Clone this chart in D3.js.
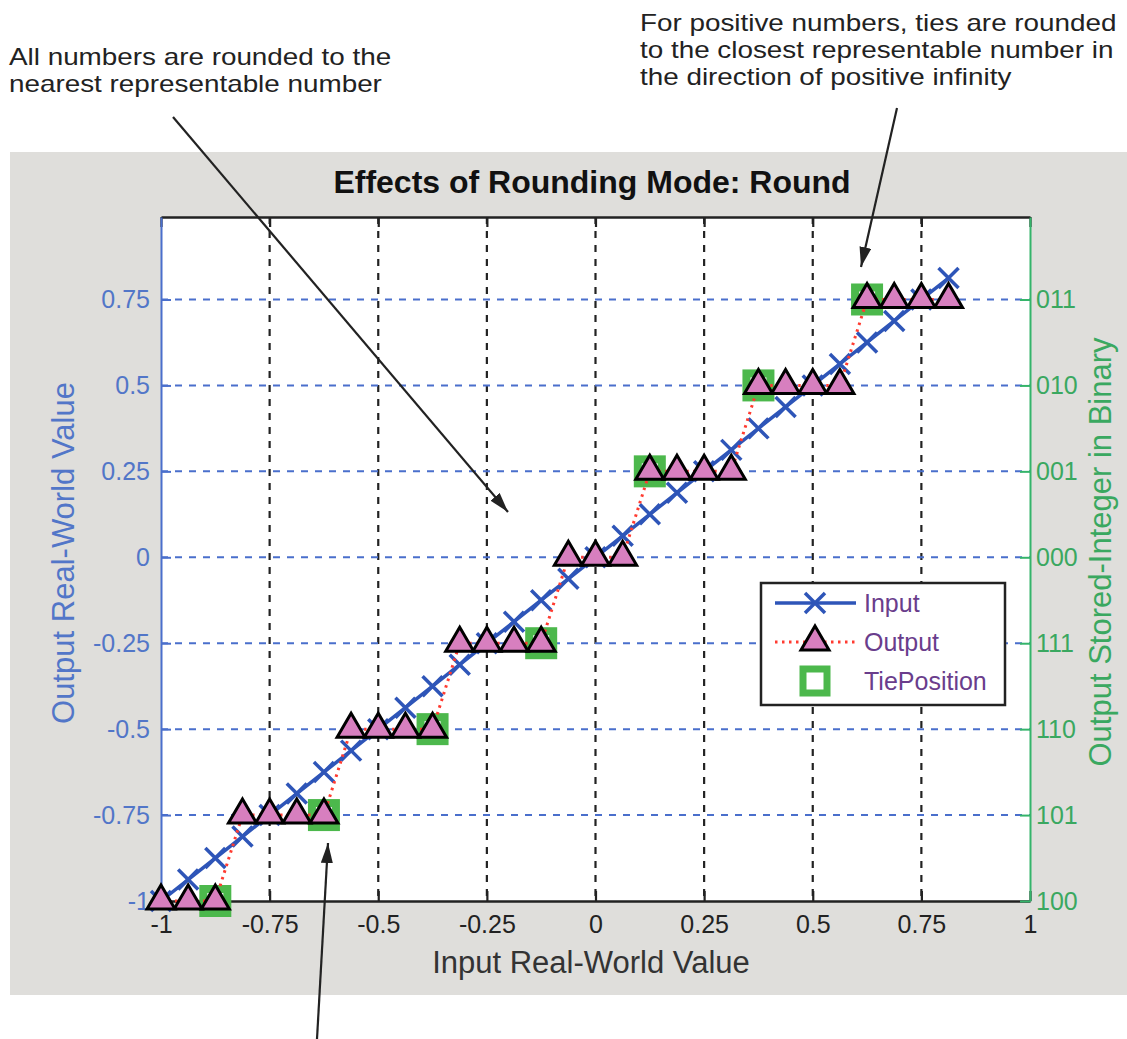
<!DOCTYPE html>
<html>
<head>
<meta charset="utf-8">
<script src="https://cdn.jsdelivr.net/npm/d3@7"></script>
<style>
  html, body { margin: 0; padding: 0; background: #ffffff; }
  svg { display: block; font-family: "Liberation Sans", Arial, Helvetica, sans-serif; }
</style>
</head>
<body>
<svg id="chart" width="1127" height="1039"></svg>
<script>
// ---------------- data ----------------
const inputX = [-1, -0.9375, -0.875, -0.8125, -0.75, -0.6875, -0.625, -0.5625, -0.5, -0.4375,
  -0.375, -0.3125, -0.25, -0.1875, -0.125, -0.0625, 0, 0.0625, 0.125, 0.1875,
  0.25, 0.3125, 0.375, 0.4375, 0.5, 0.5625, 0.625, 0.6875, 0.75, 0.8125];
const inputY = [-1, -0.9375, -0.875, -0.8125, -0.75, -0.6875, -0.625, -0.5625, -0.5, -0.4375,
  -0.375, -0.3125, -0.25, -0.1875, -0.125, -0.0625, 0, 0.0625, 0.125, 0.1875,
  0.25, 0.3125, 0.375, 0.4375, 0.5, 0.5625, 0.625, 0.6875, 0.75, 0.8125];
const outputY = [-1, -1, -1, -0.75, -0.75, -0.75, -0.75, -0.5, -0.5, -0.5,
  -0.5, -0.25, -0.25, -0.25, -0.25, 0, 0, 0, 0.25, 0.25,
  0.25, 0.25, 0.5, 0.5, 0.5, 0.5, 0.75, 0.75, 0.75, 0.75];
const tieX = [-0.875, -0.625, -0.375, -0.125, 0.125, 0.375, 0.625];
const tieY = [-1, -0.75, -0.5, -0.25, 0.25, 0.5, 0.75];

const xTicks = [-1, -0.75, -0.5, -0.25, 0, 0.25, 0.5, 0.75, 1];
const xTickLabels = ["-1", "-0.75", "-0.5", "-0.25", "0", "0.25", "0.5", "0.75", "1"];
const yTicks = [-1, -0.75, -0.5, -0.25, 0, 0.25, 0.5, 0.75];
const yTickLabels = ["-1", "-0.75", "-0.5", "-0.25", "0", "0.25", "0.5", "0.75"];
const binaryLabels = ["100", "101", "110", "111", "000", "001", "010", "011"];
const xDomain = [-1, 1];
const yDomain = [-1, 0.99];

const titleText = "Effects of Rounding Mode: Round";
const xLabelText = "Input Real-World Value";
const yLabelText = "Output Real-World Value";
const yRightLabelText = "Output Stored-Integer in Binary";
const legendLabels = ["Input", "Output", "TiePosition"];
const noteLeft = ["All numbers are rounded to the", "nearest representable number"];
const noteRight = ["For positive numbers, ties are rounded", "to the closest representable number in", "the direction of positive infinity"];

// ---------------- style ----------------
const C = {
  figBg: "#dfdedb",
  blueAxis: "#4a6fcc",
  blueText: "#5276c8",
  greenAxis: "#34b46a",
  greenText: "#3aa860",
  inputLine: "#2e55b8",
  outputLine: "#ff3b30",
  tri: "#d77fbf",
  tie: "#4cb84c",
  legendText: "#6a3d8c",
  text: "#222222"
};

const svg = d3.select("#chart");
const L = 161, R = 1030, T = 217, B = 901;
const x = d3.scaleLinear().domain(xDomain).range([L, R]);
const y = d3.scaleLinear().domain(yDomain).range([B, T]);

// arrow marker
const defs = svg.append("defs");
defs.append("marker")
  .attr("id", "arrow").attr("viewBox", "0 0 20 12")
  .attr("refX", 20).attr("refY", 6)
  .attr("markerWidth", 20).attr("markerHeight", 12)
  .attr("markerUnits", "userSpaceOnUse")
  .attr("orient", "auto")
  .append("path").attr("d", "M0,0 L20,6 L0,12 Z").attr("fill", "#222");

// figure background
svg.append("rect").attr("x", 10).attr("y", 152).attr("width", 1117).attr("height", 843).attr("fill", C.figBg);
// plot background
svg.append("rect").attr("x", L).attr("y", T).attr("width", R - L).attr("height", B - T).attr("fill", "#ffffff");

// grid
const grid = svg.append("g");
grid.selectAll("line.vg").data(xTicks.filter(d => d > xDomain[0] && d < xDomain[1])).join("line")
  .attr("x1", d => x(d)).attr("x2", d => x(d)).attr("y1", T).attr("y2", B)
  .attr("stroke", "#222").attr("stroke-width", 2.2).attr("stroke-dasharray", "7,7");
grid.selectAll("line.hg").data(yTicks.filter(d => d > yDomain[0])).join("line")
  .attr("x1", L).attr("x2", R).attr("y1", d => y(d)).attr("y2", d => y(d))
  .attr("stroke", C.blueAxis).attr("stroke-width", 2).attr("stroke-dasharray", "7,7");

// axes
const fmtX = d => xTickLabels[xTicks.indexOf(d)];
const fmtY = d => yTickLabels[yTicks.indexOf(d)];
const fmtB = d => binaryLabels[yTicks.indexOf(d)];

const gx = svg.append("g").attr("transform", `translate(0,${B})`)
  .call(d3.axisBottom(x).tickValues(xTicks).tickFormat(fmtX).tickSizeInner(-10).tickSizeOuter(0).tickPadding(14));
gx.select(".domain").attr("stroke", "#222").attr("stroke-width", 2.5);
gx.selectAll(".tick line").attr("stroke", "#222").attr("stroke-width", 2.2);
gx.selectAll(".tick text").attr("fill", C.text).attr("font-size", 25).attr("font-family", "Liberation Sans, Arial, sans-serif");

const gt = svg.append("g").attr("transform", `translate(0,${T})`)
  .call(d3.axisTop(x).tickValues(xTicks).tickFormat("").tickSizeInner(-10).tickSizeOuter(0));
gt.select(".domain").attr("stroke", "#222").attr("stroke-width", 2.5);
gt.selectAll(".tick line").attr("stroke", "#222").attr("stroke-width", 2.2);

const gy = svg.append("g").attr("transform", `translate(${L},0)`)
  .call(d3.axisLeft(y).tickValues(yTicks).tickFormat(fmtY).tickSizeInner(-10).tickSizeOuter(0).tickPadding(11));
gy.select(".domain").attr("stroke", C.blueAxis).attr("stroke-width", 2);
gy.selectAll(".tick line").attr("stroke", C.blueAxis).attr("stroke-width", 2);
gy.selectAll(".tick text").attr("fill", C.blueText).attr("font-size", 25).attr("font-family", "Liberation Sans, Arial, sans-serif");

const gr = svg.append("g").attr("transform", `translate(${R},0)`)
  .call(d3.axisRight(y).tickValues(yTicks).tickFormat(fmtB).tickSizeInner(-10).tickSizeOuter(0).tickPadding(6));
gr.select(".domain").attr("stroke", C.greenAxis).attr("stroke-width", 2);
gr.selectAll(".tick line").attr("stroke", C.greenAxis).attr("stroke-width", 2);
gr.selectAll(".tick text").attr("fill", C.greenText).attr("font-size", 25).attr("font-family", "Liberation Sans, Arial, sans-serif");

// data
const inputPts = inputX.map((d, i) => [d, inputY[i]]);
const outputPts = inputX.map((d, i) => [d, outputY[i]]);
const tiePts = tieX.map((d, i) => [d, tieY[i]]);
const line = d3.line().x(d => x(d[0])).y(d => y(d[1]));

const triPath = "M0,-16 L14,8 L-14,8 Z";
const crossPath = "M-10,-10 L10,10 M-10,10 L10,-10";

// tie squares
svg.append("g").selectAll("rect").data(tiePts).join("rect")
  .attr("x", d => x(d[0]) - 12).attr("y", d => y(d[1]) - 12)
  .attr("width", 24).attr("height", 24)
  .attr("fill", "#ffffff").attr("stroke", C.tie).attr("stroke-width", 8);

// input line and markers
svg.append("path").datum(inputPts).attr("d", line)
  .attr("fill", "none").attr("stroke", C.inputLine).attr("stroke-width", 3.5);
svg.append("g").selectAll("path").data(inputPts).join("path")
  .attr("transform", d => `translate(${x(d[0])},${y(d[1])})`)
  .attr("d", crossPath).attr("stroke", C.inputLine).attr("stroke-width", 3.5).attr("fill", "none");

// output line
svg.append("path").datum(outputPts).attr("d", line)
  .attr("fill", "none").attr("stroke", C.outputLine).attr("stroke-width", 3)
  .attr("stroke-dasharray", "2.5,4.5");
svg.append("g").selectAll("path").data(outputPts).join("path")
  .attr("transform", d => `translate(${x(d[0])},${y(d[1])})`)
  .attr("d", triPath).attr("fill", C.tri).attr("stroke", "#000").attr("stroke-width", 3).attr("stroke-linejoin", "miter");

// legend
const lg = svg.append("g");
lg.append("rect").attr("x", 761).attr("y", 583).attr("width", 244).attr("height", 122)
  .attr("fill", "#ffffff").attr("stroke", "#222").attr("stroke-width", 2.5);
const rows = [603, 642, 681];
lg.append("line").attr("x1", 775).attr("x2", 856).attr("y1", rows[0]).attr("y2", rows[0])
  .attr("stroke", C.inputLine).attr("stroke-width", 3.5);
lg.append("path").attr("transform", `translate(815,${rows[0]})`).attr("d", crossPath)
  .attr("stroke", C.inputLine).attr("stroke-width", 3.5);
lg.append("line").attr("x1", 775).attr("x2", 856).attr("y1", rows[1]).attr("y2", rows[1])
  .attr("stroke", C.outputLine).attr("stroke-width", 3).attr("stroke-dasharray", "2.5,4.5");
lg.append("path").attr("transform", `translate(815,${rows[1]})`).attr("d", triPath)
  .attr("fill", C.tri).attr("stroke", "#000").attr("stroke-width", 3);
lg.append("rect").attr("x", 815 - 12).attr("y", rows[2] - 12).attr("width", 24).attr("height", 24)
  .attr("fill", "#ffffff").attr("stroke", C.tie).attr("stroke-width", 7);
lg.selectAll("text").data(legendLabels).join("text")
  .attr("x", 864).attr("y", (d, i) => rows[i] + 9)
  .attr("font-size", 25).attr("fill", C.legendText).text(d => d);

// title and axis labels
svg.append("text").attr("x", 592).attr("y", 193).attr("text-anchor", "middle")
  .attr("font-size", 32).attr("font-weight", "bold").attr("fill", "#111").text(titleText);
svg.append("text").attr("x", 591).attr("y", 973).attr("text-anchor", "middle")
  .attr("font-size", 31).attr("fill", "#333").text(xLabelText);
svg.append("text").attr("transform", "translate(74,553) rotate(-90)").attr("text-anchor", "middle")
  .attr("font-size", 31).attr("fill", C.blueText).text(yLabelText);
svg.append("text").attr("transform", "translate(1111,552) rotate(-90)").attr("text-anchor", "middle")
  .attr("font-size", 31).attr("fill", C.greenText).text(yRightLabelText);

// annotations (slightly widened glyphs, tight leading as in the reference)
svg.append("g").attr("transform", "translate(9,0) scale(1.16,1)")
  .selectAll("text").data(noteLeft).join("text")
  .attr("x", 0).attr("y", (d, i) => 65 + i * 27)
  .attr("font-size", 24).attr("fill", "#222").text(d => d);
svg.append("g").attr("transform", "translate(640,0) scale(1.16,1)")
  .selectAll("text").data(noteRight).join("text")
  .attr("x", 0).attr("y", (d, i) => 31 + i * 27)
  .attr("font-size", 24).attr("fill", "#222").text(d => d);

// arrows
const arrows = [
  [[173, 117], [508, 512]],
  [[897, 108], [861, 267]],
  [[317, 1039], [328, 843]]
];
svg.append("g").selectAll("line").data(arrows).join("line")
  .attr("x1", d => d[0][0]).attr("y1", d => d[0][1])
  .attr("x2", d => d[1][0]).attr("y2", d => d[1][1])
  .attr("stroke", "#222").attr("stroke-width", 2.2).attr("marker-end", "url(#arrow)");
</script>
</body>
</html>
